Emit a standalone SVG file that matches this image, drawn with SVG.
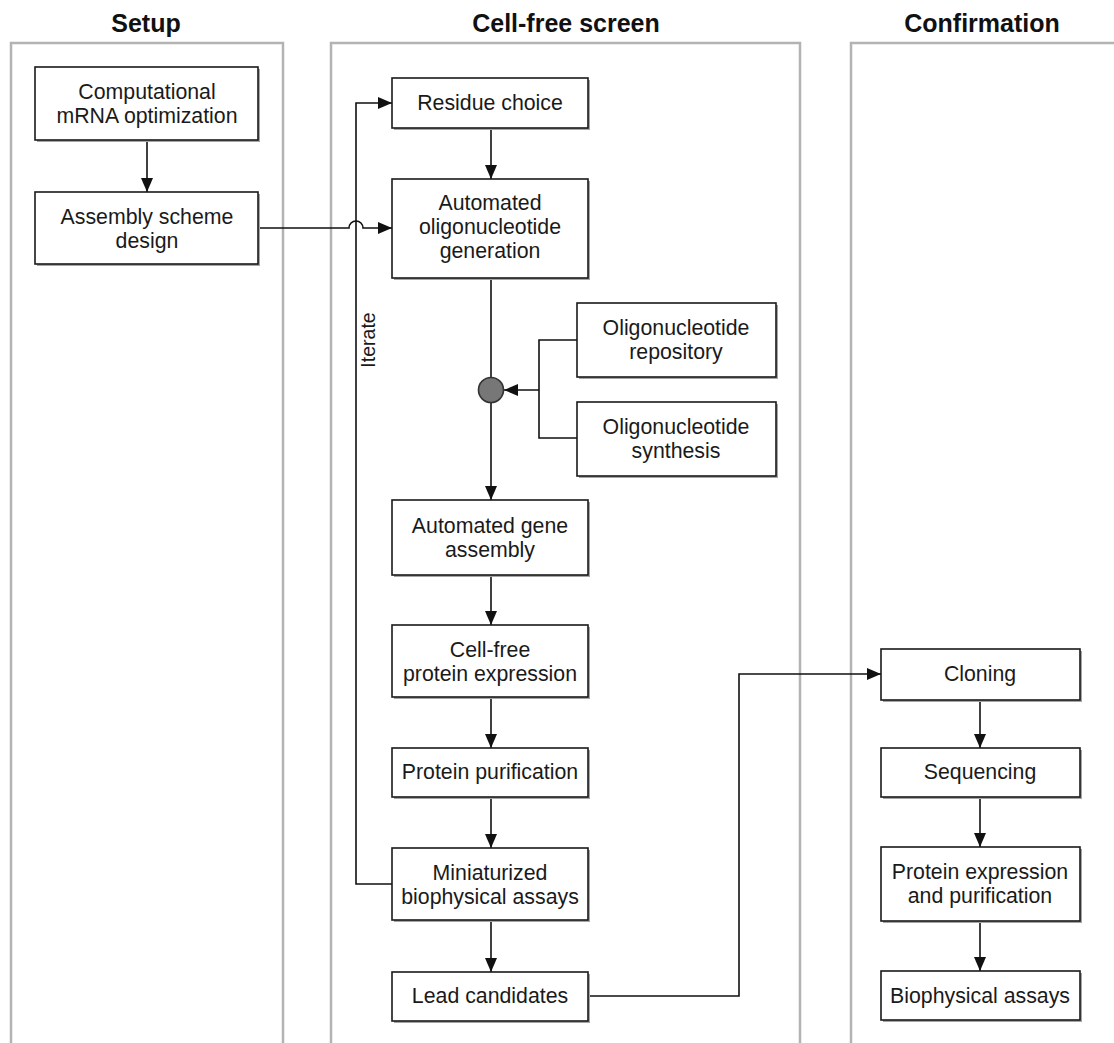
<svg xmlns="http://www.w3.org/2000/svg" width="1114" height="1043" viewBox="0 0 1114 1043">
<style>
.lane{fill:none;stroke:#b3b3b3;stroke-width:2.5}
.hdr{font-family:"Liberation Sans",Arial,sans-serif;font-weight:bold;font-size:25px;fill:#111;text-anchor:middle}
.box{fill:#fff;stroke:#1a1a1a;stroke-width:1.6}
.sh{fill:#a5a5a5}
.t{font-family:"Liberation Sans",Arial,sans-serif;font-size:21.3px;fill:#1a1a1a;text-anchor:middle}
.c{fill:none;stroke:#111;stroke-width:1.6}
</style>
<defs>
<marker id="ah" viewBox="0 0 14 12" refX="14" refY="6" markerWidth="14" markerHeight="12" markerUnits="userSpaceOnUse" orient="auto">
<path d="M0,0 L14,6 L0,12 Z" fill="#111"/>
</marker>
</defs>
<g id="lanes">
<rect class="lane" x="11" y="43" width="272" height="1020"/>
<rect class="lane" x="331" y="43" width="469" height="1020"/>
<rect class="lane" x="851" y="43" width="280" height="1020"/>
<text class="hdr" x="146" y="32">Setup</text>
<text class="hdr" x="566" y="32">Cell-free screen</text>
<text class="hdr" x="982" y="32">Confirmation</text>
</g>
<g id="connectors">
<path class="c" d="M147,141 V192" marker-end="url(#ah)"/>
<path class="c" d="M259,228 H349 A7,7 0 0 1 363,228 H392" marker-end="url(#ah)"/>
<path class="c" d="M392,884 H356 V103 H392" marker-end="url(#ah)"/>
<text class="t" transform="translate(375,340) rotate(-90)" style="font-size:19.5px">Iterate</text>
<path class="c" d="M491,128 V179" marker-end="url(#ah)"/>
<path class="c" d="M491,278 V377"/>
<path class="c" d="M577,340 H539 V438 H577"/>
<path class="c" d="M539,390 H504" marker-end="url(#ah)"/>
<circle cx="491" cy="390" r="12.5" fill="#777" stroke="#333" stroke-width="1.6"/>
<path class="c" d="M491,403 V500" marker-end="url(#ah)"/>
<path class="c" d="M491,575 V625" marker-end="url(#ah)"/>
<path class="c" d="M491,697 V748" marker-end="url(#ah)"/>
<path class="c" d="M491,797 V848" marker-end="url(#ah)"/>
<path class="c" d="M491,920 V972" marker-end="url(#ah)"/>
<path class="c" d="M588,996 H739 V674 H881" marker-end="url(#ah)"/>
<path class="c" d="M980,700 V748" marker-end="url(#ah)"/>
<path class="c" d="M980,797 V847" marker-end="url(#ah)"/>
<path class="c" d="M980,921 V971" marker-end="url(#ah)"/>
</g>
<g id="n1"><rect class="sh" x="37" y="69" width="223" height="73"/><rect class="box" x="35" y="67" width="223" height="73"/>
<text class="t" x="147" y="99">Computational</text><text class="t" x="147" y="123">mRNA optimization</text></g>
<g id="n2"><rect class="sh" x="37" y="194" width="223" height="72"/><rect class="box" x="35" y="192" width="223" height="72"/>
<text class="t" x="147" y="224">Assembly scheme</text><text class="t" x="147" y="248">design</text></g>
<g id="n3"><rect class="sh" x="394" y="80" width="196" height="50"/><rect class="box" x="392" y="78" width="196" height="50"/>
<text class="t" x="490" y="110">Residue choice</text></g>
<g id="n4"><rect class="sh" x="394" y="181" width="196" height="99"/><rect class="box" x="392" y="179" width="196" height="99"/>
<text class="t" x="490" y="210">Automated</text><text class="t" x="490" y="234">oligonucleotide</text><text class="t" x="490" y="258">generation</text></g>
<g id="n5"><rect class="sh" x="579" y="305" width="199" height="74"/><rect class="box" x="577" y="303" width="199" height="74"/>
<text class="t" x="676" y="335">Oligonucleotide</text><text class="t" x="676" y="359">repository</text></g>
<g id="n6"><rect class="sh" x="579" y="404" width="199" height="74"/><rect class="box" x="577" y="402" width="199" height="74"/>
<text class="t" x="676" y="434">Oligonucleotide</text><text class="t" x="676" y="458">synthesis</text></g>
<g id="n7"><rect class="sh" x="394" y="502" width="196" height="75"/><rect class="box" x="392" y="500" width="196" height="75"/>
<text class="t" x="490" y="533">Automated gene</text><text class="t" x="490" y="557">assembly</text></g>
<g id="n8"><rect class="sh" x="394" y="627" width="196" height="72"/><rect class="box" x="392" y="625" width="196" height="72"/>
<text class="t" x="490" y="657">Cell-free</text><text class="t" x="490" y="681">protein expression</text></g>
<g id="n9"><rect class="sh" x="394" y="750" width="196" height="49"/><rect class="box" x="392" y="748" width="196" height="49"/>
<text class="t" x="490" y="779">Protein purification</text></g>
<g id="n10"><rect class="sh" x="394" y="850" width="196" height="72"/><rect class="box" x="392" y="848" width="196" height="72"/>
<text class="t" x="490" y="880">Miniaturized</text><text class="t" x="490" y="904">biophysical assays</text></g>
<g id="n11"><rect class="sh" x="394" y="974" width="196" height="49"/><rect class="box" x="392" y="972" width="196" height="49"/>
<text class="t" x="490" y="1003">Lead candidates</text></g>
<g id="n12"><rect class="sh" x="883" y="651" width="199" height="51"/><rect class="box" x="881" y="649" width="199" height="51"/>
<text class="t" x="980" y="681">Cloning</text></g>
<g id="n13"><rect class="sh" x="883" y="750" width="199" height="49"/><rect class="box" x="881" y="748" width="199" height="49"/>
<text class="t" x="980" y="779">Sequencing</text></g>
<g id="n14"><rect class="sh" x="883" y="849" width="199" height="74"/><rect class="box" x="881" y="847" width="199" height="74"/>
<text class="t" x="980" y="879">Protein expression</text><text class="t" x="980" y="903">and purification</text></g>
<g id="n15"><rect class="sh" x="883" y="973" width="199" height="49"/><rect class="box" x="881" y="971" width="199" height="49"/>
<text class="t" x="980" y="1003">Biophysical assays</text></g>
</svg>
